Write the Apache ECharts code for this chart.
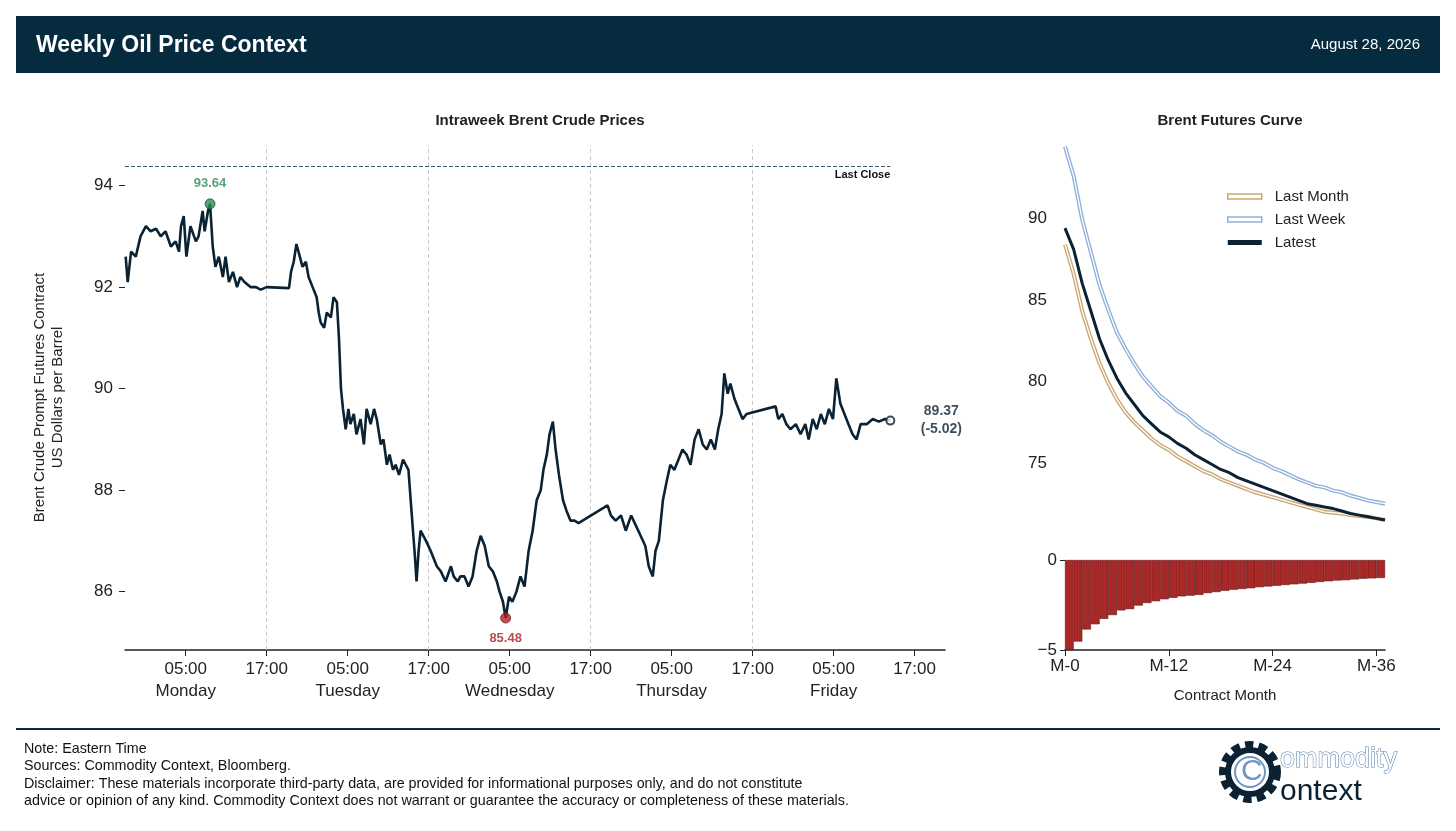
<!DOCTYPE html>
<html>
<head>
<meta charset="utf-8">
<script src="https://cdn.jsdelivr.net/npm/echarts@6/dist/echarts.min.js"></script>
<style>
  html, body { margin: 0; padding: 0; background: #fff; }
  #chart { width: 1456px; height: 831px; }
</style>
</head>
<body>
<div id="chart"></div>
<script>
// hours since Monday 00:00 (Eastern) and Brent prompt price
const hours = [-3.9,-3.6,-3.1,-2.4,-1.7,-0.9,-0.2,0.6,1.3,2.0,2.8,3.5,4.0,4.3,4.7,5.1,5.7,6.5,6.9,7.5,7.8,8.3,8.6,9.0,9.4,9.9,10.5,10.9,11.4,12.0,12.6,13.1,13.7,14.6,15.4,16.1,17.0,
  20.3,20.6,21.0,21.4,21.9,22.3,22.8,23.2,23.8,24.4,24.7,25.0,25.5,25.9,26.5,26.9,27.4,27.7,28.0,28.3,28.7,29.1,29.4,29.9,30.3,30.9,31.4,31.8,32.4,32.9,33.3,33.9,34.3,34.8,35.2,35.7,36.1,36.6,37.2,37.6,38.0,38.5,38.9,39.2,39.5,39.8,40.6,
  41.3,42.2,42.8,43.5,44.3,44.7,45.3,45.7,46.3,46.9,47.5,48.1,48.7,49.3,49.9,50.5,51.1,51.5,52.0,52.4,52.9,53.4,54.0,54.6,55.2,55.8,56.4,57.0,57.6,58.0,58.5,58.9,59.4,59.8,60.3,60.9,61.4,62.0,62.6,63.2,63.8,
  67.5,68.0,68.7,69.5,70.2,71.0,71.7,72.4,73.1,73.6,74.2,74.6,75.1,75.7,76.3,76.8,77.4,78.0,78.6,79.2,79.8,80.4,81.0,81.6,82.2,82.8,83.4,83.9,84.4,84.8,85.3,85.7,86.3,86.9,87.5,88.1,
  92.4,92.8,93.4,94.0,94.6,95.4,96.1,96.8,97.3,97.9,98.5,99.1,99.7,100.3,100.9,101.4,102.0,102.6,103.2,103.8,104.4,105.0,105.9,106.8,107.7,108.6,109.4];
const prices = [92.6,92.1,92.7,92.6,93.0,93.2,93.1,93.15,93.0,93.1,92.8,92.9,92.7,93.2,93.4,92.6,93.2,92.9,93.0,93.5,93.1,93.5,93.64,92.8,92.4,92.6,92.2,92.6,92.1,92.3,92.0,92.2,92.1,92.0,92.0,91.95,92.0,
  91.98,92.3,92.5,92.85,92.6,92.4,92.5,92.2,92.0,91.8,91.5,91.3,91.2,91.5,91.4,91.8,91.7,91.0,90.0,89.6,89.2,89.6,89.3,89.5,89.1,89.4,88.9,89.6,89.3,89.6,89.4,88.9,89.0,88.5,88.7,88.4,88.5,88.3,88.6,88.5,88.4,87.5,86.8,86.2,86.8,87.2,87.0,
  86.8,86.5,86.4,86.2,86.5,86.3,86.2,86.3,86.3,86.1,86.3,86.8,87.1,86.9,86.5,86.4,86.2,86.0,85.8,85.48,85.9,85.8,86.0,86.3,86.1,86.8,87.2,87.8,88.0,88.4,88.7,89.1,89.35,88.8,88.3,87.8,87.6,87.4,87.4,87.35,87.4,
  87.7,87.5,87.4,87.5,87.2,87.5,87.3,87.1,86.9,86.5,86.3,86.8,87.0,87.8,88.2,88.5,88.4,88.6,88.8,88.7,88.5,89.0,89.2,88.9,88.8,89.0,88.8,89.2,89.5,90.3,89.9,90.1,89.8,89.6,89.4,89.5,
  89.65,89.4,89.5,89.3,89.2,89.3,89.1,89.3,89.0,89.4,89.2,89.5,89.3,89.6,89.4,90.2,89.7,89.5,89.3,89.1,89.0,89.3,89.3,89.4,89.35,89.4,89.37];
const lastClose = 94.39;
const weekHigh = [8.6, 93.64];
const weekLow = [52.4, 85.48];
const dayNames = ['Monday', 'Tuesday', 'Wednesday', 'Thursday', 'Friday'];
const tickHours = [5, 17, 29, 41, 53, 65, 77, 89, 101, 113];
const sessionBreaks = [17, 41, 65, 89];
const priceTicks = [86, 88, 90, 92, 94];

// futures curve, contract months M-0 .. M-37
const curveLatest = [89.4,88.1,86.0,84.3,82.6,81.3,80.2,79.3,78.6,77.9,77.4,76.9,76.6,76.2,75.9,75.5,75.2,74.9,74.6,74.4,74.1,73.9,73.7,73.5,73.3,73.1,72.9,72.7,72.5,72.4,72.3,72.2,72.05,71.9,71.8,71.7,71.6,71.5];
const curveLastWeek = [94.4,92.6,89.9,87.9,85.9,84.4,83.0,82.0,81.1,80.3,79.7,79.1,78.7,78.2,77.9,77.4,77.0,76.7,76.3,76.0,75.7,75.5,75.2,75.0,74.7,74.5,74.25,74.0,73.8,73.6,73.5,73.3,73.2,73.0,72.85,72.7,72.6,72.5];
const curveLastMonth = [88.4,86.6,84.3,82.6,81.1,79.9,78.9,78.1,77.5,77.0,76.5,76.1,75.8,75.4,75.1,74.8,74.5,74.3,74.0,73.8,73.6,73.4,73.2,73.05,72.9,72.75,72.6,72.45,72.3,72.15,72.0,71.95,71.9,71.8,71.75,71.7,71.6,71.5];
const weeklyChange = [-5.0,-4.53,-3.86,-3.57,-3.27,-3.06,-2.8,-2.73,-2.53,-2.39,-2.29,-2.18,-2.1,-2.02,-1.98,-1.94,-1.84,-1.78,-1.71,-1.65,-1.61,-1.57,-1.51,-1.47,-1.43,-1.39,-1.35,-1.31,-1.27,-1.22,-1.18,-1.14,-1.12,-1.08,-1.04,-1.02,-1.0];
const monthTicks = [0, 12, 24, 36];

const navy = '#0b2233';
const font = 'Liberation Sans';
const last = [hours[hours.length - 1], prices[prices.length - 1]];
const change = (last[1] - lastClose).toFixed(2);

const chart = echarts.init(document.getElementById('chart'));
chart.setOption({
  backgroundColor: '#fff',
  textStyle: { fontFamily: font },
  animation: false,
  title: [
    { text: 'Intraweek Brent Crude Prices', left: 535, top: 108, textAlign: 'center',
      textStyle: { fontSize: 15, fontWeight: 'bold', color: '#222', fontFamily: font } },
    { text: 'Brent Futures Curve', left: 1225, top: 108, textAlign: 'center',
      textStyle: { fontSize: 15, fontWeight: 'bold', color: '#222', fontFamily: font } }
  ],
  legend: {
    left: 1222, top: 184, orient: 'vertical', itemGap: 8, itemWidth: 34, itemHeight: 5,
    textStyle: { fontSize: 15, color: '#222', fontFamily: font, padding: [0, 0, 0, 8] },
    data: [
      { name: 'Last Month', icon: 'rect', itemStyle: { color: '#fff', borderColor: '#c9a774', borderWidth: 1.5 } },
      { name: 'Last Week', icon: 'rect', itemStyle: { color: '#fff', borderColor: '#8fb0d8', borderWidth: 1.5 } },
      { name: 'Latest', icon: 'rect', itemStyle: { color: navy } }
    ]
  },
  grid: [
    { left: 125, top: 145, width: 820, height: 505 },
    { left: 1065, top: 145, width: 320, height: 375 },
    { left: 1065, top: 560, width: 320, height: 90 }
  ],
  xAxis: [
    { gridIndex: 0, type: 'value', min: -4, max: 117.5,
      axisLine: { show: true, onZero: false, lineStyle: { color: '#222', width: 1.5 } },
      axisTick: { show: true, customValues: tickHours, length: 6, lineStyle: { color: '#222' } },
      axisLabel: { customValues: tickHours, fontSize: 17, color: '#222', lineHeight: 22,
        formatter: v => {
          const h = ((v % 24) + 24) % 24;
          const t = (h < 10 ? '0' : '') + h + ':00';
          return h === 5 ? t + '\n' + dayNames[Math.floor(v / 24)] : t;
        } },
      splitLine: { show: false } },
    { gridIndex: 1, type: 'value', min: 0, max: 37, show: false, splitLine: { show: false } },
    { gridIndex: 2, type: 'value', min: 0, max: 37,
      name: 'Contract Month', nameLocation: 'middle', nameGap: 38,
      nameTextStyle: { fontSize: 15, color: '#222' },
      axisLine: { show: true, onZero: false, lineStyle: { color: '#222', width: 1.5 } },
      axisTick: { show: true, customValues: monthTicks, length: 6, lineStyle: { color: '#222' } },
      axisLabel: { customValues: monthTicks, fontSize: 17, color: '#222', formatter: v => 'M-' + v },
      splitLine: { show: false } }
  ],
  yAxis: [
    { gridIndex: 0, type: 'value', min: 84.85, max: 94.8,
      name: 'Brent Crude Prompt Futures Contract\nUS Dollars per Barrel', nameLocation: 'middle', nameGap: 58,
      nameTextStyle: { fontSize: 15, color: '#222', lineHeight: 18 },
      axisLine: { show: false, onZero: false },
      axisTick: { show: true, customValues: priceTicks, length: 6, lineStyle: { color: '#222' } },
      axisLabel: { customValues: priceTicks, fontSize: 17, color: '#222', margin: 12 },
      splitLine: { show: false } },
    { gridIndex: 1, type: 'value', min: 71.5, max: 94.5,
      axisLine: { show: false, onZero: false }, axisTick: { show: false },
      axisLabel: { customValues: [75, 80, 85, 90], fontSize: 17, color: '#222', margin: 18 },
      splitLine: { show: false } },
    { gridIndex: 2, type: 'value', min: -5, max: 0,
      axisLine: { show: false, onZero: false },
      axisTick: { show: true, customValues: [-5, 0], length: 5, lineStyle: { color: '#222' } },
      axisLabel: { customValues: [-5, 0], fontSize: 17, color: '#222', margin: 8, formatter: v => v < 0 ? '\u2212' + (-v) : v },
      splitLine: { show: false } }
  ],
  series: [
    { type: 'line', xAxisIndex: 0, yAxisIndex: 0, symbol: 'none', z: 5,
      data: hours.map((h, i) => [h, prices[i]]),
      lineStyle: { color: navy, width: 2.6 },
      markLine: {
        silent: true, symbol: 'none',
        data: [
          ...sessionBreaks.map(h => ({ xAxis: h, lineStyle: { color: '#c8c8c8', type: [4, 3], width: 1 }, label: { show: false } })),
          [{ coord: [-4, lastClose], lineStyle: { color: '#3a5468', type: [4, 2], width: 1 },
             label: { show: true, position: 'insideEndBottom', formatter: 'Last Close', fontSize: 11, fontWeight: 'bold', color: '#111', distance: [0, 4] } },
           { coord: [last[0], lastClose] }]
        ]
      } },
    { type: 'scatter', xAxisIndex: 0, yAxisIndex: 0, z: 10, symbolSize: 10,
      data: [
        { value: weekHigh, itemStyle: { color: '#2e8b57', borderColor: '#1d5e3a', borderWidth: 1 },
          label: { show: true, position: 'top', distance: 8, formatter: weekHigh[1].toFixed(2), color: '#2e8b57', fontWeight: 'bold', fontSize: 13 } },
        { value: weekLow, itemStyle: { color: '#b22222', borderColor: '#7a1414', borderWidth: 1 },
          label: { show: true, position: 'bottom', distance: 8, formatter: weekLow[1].toFixed(2), color: '#a52020', fontWeight: 'bold', fontSize: 13 } },
        { value: last, symbolSize: 8, itemStyle: { color: '#fff', borderColor: navy, borderWidth: 2 },
          label: { show: true, position: 'right', distance: 28, formatter: last[1].toFixed(2) + '\n(' + change + ')', color: navy, fontWeight: 'bold', fontSize: 14, lineHeight: 18, align: 'center', offset: [18, 0] } }
      ] },
    { name: 'Last Month', type: 'line', xAxisIndex: 1, yAxisIndex: 1, symbol: 'none',
      data: curveLastMonth.map((v, i) => [i, v]), lineStyle: { color: '#c9a774', width: 4 } },
    { name: 'Last Month', type: 'line', xAxisIndex: 1, yAxisIndex: 1, symbol: 'none',
      data: curveLastMonth.map((v, i) => [i, v]), lineStyle: { color: '#fff', width: 1.3 } },
    { name: 'Last Week', type: 'line', xAxisIndex: 1, yAxisIndex: 1, symbol: 'none',
      data: curveLastWeek.map((v, i) => [i, v]), lineStyle: { color: '#8fb0d8', width: 4 } },
    { name: 'Last Week', type: 'line', xAxisIndex: 1, yAxisIndex: 1, symbol: 'none',
      data: curveLastWeek.map((v, i) => [i, v]), lineStyle: { color: '#fff', width: 1.3 } },
    { name: 'Latest', type: 'line', xAxisIndex: 1, yAxisIndex: 1, symbol: 'none', z: 6,
      data: curveLatest.map((v, i) => [i, v]), lineStyle: { color: navy, width: 3 } },
    { type: 'bar', xAxisIndex: 2, yAxisIndex: 2, barWidth: 8.7,
      data: weeklyChange.map((v, i) => [i + 0.5, v]),
      itemStyle: { color: '#a82828', borderColor: '#5e1212', borderWidth: 0.6 } }
  ],
  graphic: [
    { type: 'rect', shape: { x: 16, y: 16, width: 1424, height: 57 }, style: { fill: '#062a3e' } },
    { type: 'text', x: 36, y: 46, style: { text: 'Weekly Oil Price Context', fill: '#fff', fontSize: 23, fontWeight: 'bold', fontFamily: font, verticalAlign: 'middle' } },
    { type: 'text', x: 1420, y: 45, style: { text: 'August 28, 2026', fill: '#fff', fontSize: 15, fontFamily: font, align: 'right', verticalAlign: 'middle' } },
    { type: 'rect', shape: { x: 16, y: 728, width: 1424, height: 2 }, style: { fill: '#062a3e' } },
    { type: 'text', x: 24, y: 740, style: { text: 'Note: Eastern Time\nSources: Commodity Context, Bloomberg.\nDisclaimer: These materials incorporate third-party data, are provided for informational purposes only, and do not constitute\nadvice or opinion of any kind. Commodity Context does not warrant or guarantee the accuracy or completeness of these materials.',
      fill: '#111', fontSize: 14.3, lineHeight: 17.5, fontFamily: font } },
    // logo
    { type: 'circle', shape: { cx: 1250, cy: 772, r: 26 }, style: { fill: 'none', stroke: '#0b2233', lineWidth: 10, lineDash: [8, 5] } },
    { type: 'circle', shape: { cx: 1250, cy: 772, r: 22 }, style: { fill: 'none', stroke: '#0b2233', lineWidth: 6 } },
    { type: 'circle', shape: { cx: 1250, cy: 772, r: 15 }, style: { fill: '#fff', stroke: '#6f95c4', lineWidth: 2 } },
    { type: 'text', x: 1241, y: 772, style: { text: 'C', fill: '#6f95c4', fontSize: 30, fontFamily: font, verticalAlign: 'middle' } },
    { type: 'text', x: 1280, y: 760, style: { text: 'ommodity', fill: '#fff', stroke: '#4f77aa', lineWidth: 1, fontSize: 27, fontFamily: font, verticalAlign: 'middle' } },
    { type: 'text', x: 1280, y: 792, style: { text: 'ontext', fill: '#0b2233', fontSize: 30, fontFamily: font, verticalAlign: 'middle' } }
  ]
});
</script>
</body>
</html>
